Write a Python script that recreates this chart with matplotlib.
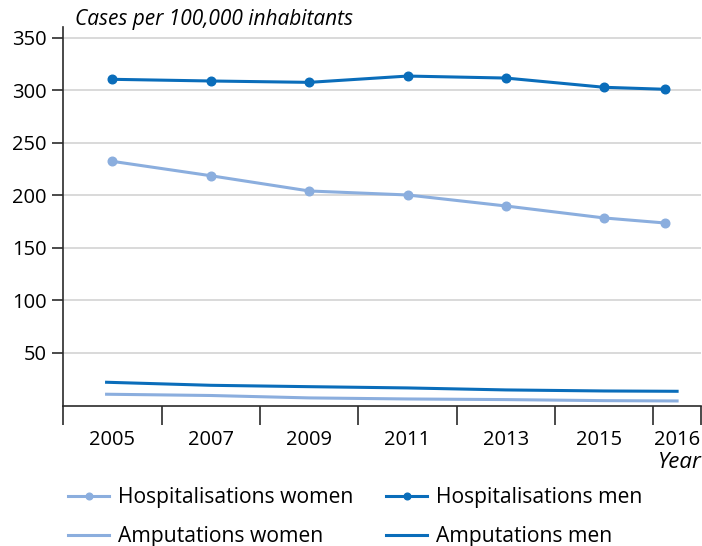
import matplotlib
matplotlib.use("Agg")
import matplotlib.pyplot as plt
from matplotlib.lines import Line2D

plt.rcParams['font.family'] = ['Open Sans', 'DejaVu Sans']

# data
years = ['2005', '2007', '2009', '2011', '2013', '2015', '2016']
x_pos = [0, 1, 2, 3, 4, 5, 5.62]
label_pos = [0, 1, 2, 3, 4, 4.95, 5.74]

hosp_men = [310.2, 308.6, 307.3, 313.3, 311.4, 302.6, 300.7]
hosp_women = [232.1, 218.4, 203.9, 200.1, 189.6, 178.2, 173.4]
amp_men = [21.8, 18.9, 17.6, 16.4, 14.5, 13.5, 13.2]
amp_women = [10.4, 9.2, 6.9, 5.9, 5.3, 4.3, 4.0]

dark = '#0A6DBA'
light = '#8BAEDE'
axis_col = '#2b2b2b'

fig = plt.figure(figsize=(7.02, 5.46), dpi=100)
ax = fig.add_axes([63.3 / 702, 1 - 406 / 546, (700.7 - 63.3) / 702, (406 - 27) / 546])

ax.plot(x_pos, hosp_women, '-o', color=light, lw=2.2, ms=6.2, zorder=3)
ax.plot(x_pos, hosp_men, '-o', color=dark, lw=2.2, ms=6.2, zorder=4)
# amputation lines are drawn slightly wider than the point columns
amp_x = [-0.06] + x_pos[1:-1] + [5.74]
ax.plot(amp_x, amp_women, '-', color=light, lw=2.2, zorder=3)
ax.plot(amp_x, amp_men, '-', color=dark, lw=2.2, zorder=3)

ax.set_xlim(-0.5, 5.98)
ax.set_ylim(-0.8, 360)

ax.set_yticks([50, 100, 150, 200, 250, 300, 350])
ax.yaxis.grid(True, color='#d9d9d9', lw=1.4)
ax.set_axisbelow(True)
ax.tick_params(axis='y', length=8, width=1.2, color=axis_col, labelsize=14.5, pad=4)

ax.set_xticks(label_pos)
ax.set_xticklabels(years)
ax.set_xticks([-0.5, 0.5, 1.5, 2.5, 3.5, 4.5, 5.5, 5.98], minor=True)
ax.tick_params(axis='x', which='major', length=0, labelsize=14.5, pad=17)
ax.tick_params(axis='x', which='minor', length=14, width=1.2, color=axis_col)

for s in ['top', 'right']:
    ax.spines[s].set_visible(False)
for s in ['left', 'bottom']:
    ax.spines[s].set_color(axis_col)
    ax.spines[s].set_linewidth(1.2)

fig.text(75 / 702, 1 - 19 / 546, 'Cases per 100,000 inhabitants', style='italic',
         fontsize=15, va='center', ha='left')
fig.text(702 / 702, 1 - 462 / 546, 'Year', style='italic', fontsize=16,
         va='center', ha='right')

h_hw = Line2D([], [], color=light, lw=2.2, marker='o', ms=4.8)
h_aw = Line2D([], [], color=light, lw=2.2)
h_hm = Line2D([], [], color=dark, lw=2.2, marker='o', ms=4.8)
h_am = Line2D([], [], color=dark, lw=2.2)

leg_kw = dict(frameon=False, fontsize=15.2, handlelength=1.95, handletextpad=0.4,
              labelspacing=0.85, borderaxespad=0, borderpad=0, loc='upper left')
fig.legend([h_hw, h_aw], ['Hospitalisations women', 'Amputations women'],
           bbox_to_anchor=(68 / 702, 1 - 487 / 546), **leg_kw)
fig.legend([h_hm, h_am], ['Hospitalisations men', 'Amputations men'],
           bbox_to_anchor=(386 / 702, 1 - 487 / 546), **leg_kw)

fig.savefig('out.png', dpi=100)
